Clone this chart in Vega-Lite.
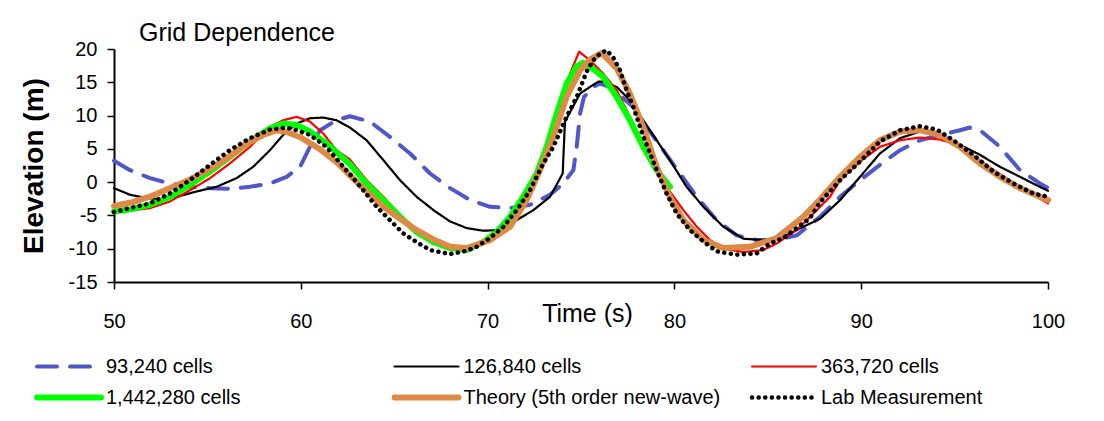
{
  "$schema": "https://vega.github.io/schema/vega-lite/v6.json",
  "width": 934,
  "height": 233,
  "autosize": {"type": "none"},
  "padding": {"left": 114, "top": 49, "right": 56, "bottom": 139},
  "background": "white",
  "title": {"text": "Grid Dependence", "anchor": "start", "frame": "group", "dx": 25, "fontSize": 25, "fontWeight": "normal", "font": "Liberation Sans", "color": "black", "baseline": "alphabetic", "offset": -27},
  "config": {"view": {"stroke": null}, "font": "Liberation Sans"},
  "datasets": {
    "waves": [
      {"series": "93,240 cells", "time": 50, "elevation": 3.2},
      {"series": "93,240 cells", "time": 50.86, "elevation": 1.8},
      {"series": "93,240 cells", "time": 51.93, "elevation": 0.6},
      {"series": "93,240 cells", "time": 53.0, "elevation": -0.2},
      {"series": "93,240 cells", "time": 54.07, "elevation": -0.7},
      {"series": "93,240 cells", "time": 55.14, "elevation": -0.9},
      {"series": "93,240 cells", "time": 56.2, "elevation": -1.0},
      {"series": "93,240 cells", "time": 57.28, "elevation": -0.7},
      {"series": "93,240 cells", "time": 58.35, "elevation": -0.2},
      {"series": "93,240 cells", "time": 59.24, "elevation": 0.8},
      {"series": "93,240 cells", "time": 59.96, "elevation": 2.3},
      {"series": "93,240 cells", "time": 60.49, "elevation": 5.3},
      {"series": "93,240 cells", "time": 61.03, "elevation": 7.8},
      {"series": "93,240 cells", "time": 61.91, "elevation": 9.3},
      {"series": "93,240 cells", "time": 62.63, "elevation": 9.9},
      {"series": "93,240 cells", "time": 63.7, "elevation": 9.1},
      {"series": "93,240 cells", "time": 64.77, "elevation": 6.8},
      {"series": "93,240 cells", "time": 65.85, "elevation": 4.3},
      {"series": "93,240 cells", "time": 66.92, "elevation": 1.3},
      {"series": "93,240 cells", "time": 67.99, "elevation": -0.9},
      {"series": "93,240 cells", "time": 69.06, "elevation": -2.7},
      {"series": "93,240 cells", "time": 70.13, "elevation": -3.7},
      {"series": "93,240 cells", "time": 71.2, "elevation": -3.9},
      {"series": "93,240 cells", "time": 72.27, "elevation": -3.4},
      {"series": "93,240 cells", "time": 73.34, "elevation": -1.9},
      {"series": "93,240 cells", "time": 74.05, "elevation": -0.2},
      {"series": "93,240 cells", "time": 74.59, "elevation": 1.8},
      {"series": "93,240 cells", "time": 74.77, "elevation": 5.3},
      {"series": "93,240 cells", "time": 74.95, "elevation": 10.3},
      {"series": "93,240 cells", "time": 75.16, "elevation": 12.8},
      {"series": "93,240 cells", "time": 75.66, "elevation": 14.3},
      {"series": "93,240 cells", "time": 76.0, "elevation": 14.8},
      {"series": "93,240 cells", "time": 76.55, "elevation": 14.3},
      {"series": "93,240 cells", "time": 77.8, "elevation": 11.3},
      {"series": "93,240 cells", "time": 78.51, "elevation": 8.3},
      {"series": "93,240 cells", "time": 79.4, "elevation": 4.8},
      {"series": "93,240 cells", "time": 80.3, "elevation": 1.3},
      {"series": "93,240 cells", "time": 81.19, "elevation": -2.2},
      {"series": "93,240 cells", "time": 82.26, "elevation": -5.7},
      {"series": "93,240 cells", "time": 83.33, "elevation": -8.0},
      {"series": "93,240 cells", "time": 84.4, "elevation": -8.7},
      {"series": "93,240 cells", "time": 85.48, "elevation": -8.7},
      {"series": "93,240 cells", "time": 86.55, "elevation": -8.0},
      {"series": "93,240 cells", "time": 87.8, "elevation": -5.2},
      {"series": "93,240 cells", "time": 88.87, "elevation": -2.2},
      {"series": "93,240 cells", "time": 89.94, "elevation": 0.3},
      {"series": "93,240 cells", "time": 91.0, "elevation": 2.6},
      {"series": "93,240 cells", "time": 92.08, "elevation": 4.8},
      {"series": "93,240 cells", "time": 93.15, "elevation": 6.3},
      {"series": "93,240 cells", "time": 94.22, "elevation": 7.1},
      {"series": "93,240 cells", "time": 95.29, "elevation": 7.8},
      {"series": "93,240 cells", "time": 95.82, "elevation": 8.2},
      {"series": "93,240 cells", "time": 96.36, "elevation": 7.8},
      {"series": "93,240 cells", "time": 97.43, "elevation": 5.3},
      {"series": "93,240 cells", "time": 98.5, "elevation": 1.8},
      {"series": "93,240 cells", "time": 99.57, "elevation": -0.2},
      {"series": "93,240 cells", "time": 100, "elevation": -0.9},

      {"series": "126,840 cells", "time": 50, "elevation": -0.9},
      {"series": "126,840 cells", "time": 50.86, "elevation": -1.9},
      {"series": "126,840 cells", "time": 51.57, "elevation": -2.3},
      {"series": "126,840 cells", "time": 52.46, "elevation": -2.6},
      {"series": "126,840 cells", "time": 53.35, "elevation": -2.2},
      {"series": "126,840 cells", "time": 54.42, "elevation": -1.4},
      {"series": "126,840 cells", "time": 55.49, "elevation": -0.7},
      {"series": "126,840 cells", "time": 56.56, "elevation": 0.6},
      {"series": "126,840 cells", "time": 57.45, "elevation": 2.3},
      {"series": "126,840 cells", "time": 58.35, "elevation": 4.8},
      {"series": "126,840 cells", "time": 59.06, "elevation": 7.1},
      {"series": "126,840 cells", "time": 59.78, "elevation": 8.8},
      {"series": "126,840 cells", "time": 60.49, "elevation": 9.6},
      {"series": "126,840 cells", "time": 61.2, "elevation": 9.7},
      {"series": "126,840 cells", "time": 61.91, "elevation": 9.3},
      {"series": "126,840 cells", "time": 62.63, "elevation": 8.2},
      {"series": "126,840 cells", "time": 63.52, "elevation": 6.3},
      {"series": "126,840 cells", "time": 64.42, "elevation": 3.3},
      {"series": "126,840 cells", "time": 65.31, "elevation": 0.3},
      {"series": "126,840 cells", "time": 66.2, "elevation": -2.2},
      {"series": "126,840 cells", "time": 67.1, "elevation": -4.2},
      {"series": "126,840 cells", "time": 67.99, "elevation": -5.9},
      {"series": "126,840 cells", "time": 68.88, "elevation": -6.9},
      {"series": "126,840 cells", "time": 69.77, "elevation": -7.3},
      {"series": "126,840 cells", "time": 70.66, "elevation": -7.2},
      {"series": "126,840 cells", "time": 71.56, "elevation": -5.7},
      {"series": "126,840 cells", "time": 72.45, "elevation": -4.2},
      {"series": "126,840 cells", "time": 73.34, "elevation": -2.2},
      {"series": "126,840 cells", "time": 74.02, "elevation": 1.3},
      {"series": "126,840 cells", "time": 74.14, "elevation": 9.1},
      {"series": "126,840 cells", "time": 74.95, "elevation": 13.3},
      {"series": "126,840 cells", "time": 75.48, "elevation": 14.3},
      {"series": "126,840 cells", "time": 75.93, "elevation": 15.1},
      {"series": "126,840 cells", "time": 76.19, "elevation": 15.1},
      {"series": "126,840 cells", "time": 76.91, "elevation": 14.3},
      {"series": "126,840 cells", "time": 77.62, "elevation": 12.3},
      {"series": "126,840 cells", "time": 78.33, "elevation": 9.3},
      {"series": "126,840 cells", "time": 79.05, "elevation": 6.3},
      {"series": "126,840 cells", "time": 79.76, "elevation": 3.3},
      {"series": "126,840 cells", "time": 80.65, "elevation": -0.7},
      {"series": "126,840 cells", "time": 81.55, "elevation": -3.7},
      {"series": "126,840 cells", "time": 82.62, "elevation": -6.7},
      {"series": "126,840 cells", "time": 83.69, "elevation": -8.5},
      {"series": "126,840 cells", "time": 84.76, "elevation": -8.7},
      {"series": "126,840 cells", "time": 85.83, "elevation": -8.2},
      {"series": "126,840 cells", "time": 86.9, "elevation": -6.7},
      {"series": "126,840 cells", "time": 87.8, "elevation": -5.5},
      {"series": "126,840 cells", "time": 88.87, "elevation": -2.7},
      {"series": "126,840 cells", "time": 89.94, "elevation": 0.8},
      {"series": "126,840 cells", "time": 91.0, "elevation": 4.3},
      {"series": "126,840 cells", "time": 92.08, "elevation": 6.6},
      {"series": "126,840 cells", "time": 93.15, "elevation": 7.6},
      {"series": "126,840 cells", "time": 94.22, "elevation": 7.1},
      {"series": "126,840 cells", "time": 95.29, "elevation": 5.6},
      {"series": "126,840 cells", "time": 96.36, "elevation": 4.1},
      {"series": "126,840 cells", "time": 97.43, "elevation": 2.3},
      {"series": "126,840 cells", "time": 98.5, "elevation": 0.8},
      {"series": "126,840 cells", "time": 99.2, "elevation": -0.2},
      {"series": "126,840 cells", "time": 100, "elevation": -1.3},

      {"series": "363,720 cells", "time": 50, "elevation": -4.2},
      {"series": "363,720 cells", "time": 50.86, "elevation": -4.3},
      {"series": "363,720 cells", "time": 51.93, "elevation": -3.9},
      {"series": "363,720 cells", "time": 53.0, "elevation": -2.9},
      {"series": "363,720 cells", "time": 54.07, "elevation": -1.2},
      {"series": "363,720 cells", "time": 55.14, "elevation": 0.6},
      {"series": "363,720 cells", "time": 56.2, "elevation": 2.8},
      {"series": "363,720 cells", "time": 57.28, "elevation": 5.3},
      {"series": "363,720 cells", "time": 58.35, "elevation": 8.3},
      {"series": "363,720 cells", "time": 59.06, "elevation": 9.3},
      {"series": "363,720 cells", "time": 59.78, "elevation": 9.8},
      {"series": "363,720 cells", "time": 60.49, "elevation": 9.1},
      {"series": "363,720 cells", "time": 61.2, "elevation": 7.3},
      {"series": "363,720 cells", "time": 61.91, "elevation": 4.8},
      {"series": "363,720 cells", "time": 62.63, "elevation": 3.4},
      {"series": "363,720 cells", "time": 63.52, "elevation": 0.3},
      {"series": "363,720 cells", "time": 64.42, "elevation": -2.2},
      {"series": "363,720 cells", "time": 65.31, "elevation": -4.9},
      {"series": "363,720 cells", "time": 66.2, "elevation": -7.2},
      {"series": "363,720 cells", "time": 67.1, "elevation": -8.7},
      {"series": "363,720 cells", "time": 67.99, "elevation": -9.7},
      {"series": "363,720 cells", "time": 68.88, "elevation": -9.9},
      {"series": "363,720 cells", "time": 69.77, "elevation": -9.0},
      {"series": "363,720 cells", "time": 70.66, "elevation": -6.9},
      {"series": "363,720 cells", "time": 71.56, "elevation": -4.2},
      {"series": "363,720 cells", "time": 72.27, "elevation": -0.7},
      {"series": "363,720 cells", "time": 72.8, "elevation": 2.3},
      {"series": "363,720 cells", "time": 73.34, "elevation": 6.3},
      {"series": "363,720 cells", "time": 73.88, "elevation": 11.3},
      {"series": "363,720 cells", "time": 74.41, "elevation": 16.3},
      {"series": "363,720 cells", "time": 74.9, "elevation": 19.6},
      {"series": "363,720 cells", "time": 75.48, "elevation": 18.3},
      {"series": "363,720 cells", "time": 76.19, "elevation": 16.3},
      {"series": "363,720 cells", "time": 76.91, "elevation": 13.8},
      {"series": "363,720 cells", "time": 77.62, "elevation": 9.8},
      {"series": "363,720 cells", "time": 78.33, "elevation": 5.3},
      {"series": "363,720 cells", "time": 79.05, "elevation": 1.8},
      {"series": "363,720 cells", "time": 79.76, "elevation": -1.4},
      {"series": "363,720 cells", "time": 80.48, "elevation": -4.2},
      {"series": "363,720 cells", "time": 81.2, "elevation": -6.7},
      {"series": "363,720 cells", "time": 81.91, "elevation": -8.7},
      {"series": "363,720 cells", "time": 82.62, "elevation": -10.0},
      {"series": "363,720 cells", "time": 83.69, "elevation": -10.5},
      {"series": "363,720 cells", "time": 84.76, "elevation": -10.2},
      {"series": "363,720 cells", "time": 85.48, "elevation": -9.2},
      {"series": "363,720 cells", "time": 86.55, "elevation": -7.2},
      {"series": "363,720 cells", "time": 87.62, "elevation": -4.2},
      {"series": "363,720 cells", "time": 88.33, "elevation": -2.2},
      {"series": "363,720 cells", "time": 88.87, "elevation": 0.3},
      {"series": "363,720 cells", "time": 89.94, "elevation": 3.1},
      {"series": "363,720 cells", "time": 91.0, "elevation": 5.3},
      {"series": "363,720 cells", "time": 92.08, "elevation": 6.3},
      {"series": "363,720 cells", "time": 93.15, "elevation": 6.7},
      {"series": "363,720 cells", "time": 94.22, "elevation": 6.4},
      {"series": "363,720 cells", "time": 94.93, "elevation": 5.8},
      {"series": "363,720 cells", "time": 96.0, "elevation": 4.0},
      {"series": "363,720 cells", "time": 97.0, "elevation": 2.0},
      {"series": "363,720 cells", "time": 98.0, "elevation": 0.2},
      {"series": "363,720 cells", "time": 99.0, "elevation": -1.5},
      {"series": "363,720 cells", "time": 100, "elevation": -3.2},

      {"series": "1,442,280 cells", "time": 50, "elevation": -4.4},
      {"series": "1,442,280 cells", "time": 50.86, "elevation": -4.1},
      {"series": "1,442,280 cells", "time": 51.93, "elevation": -3.4},
      {"series": "1,442,280 cells", "time": 53.0, "elevation": -2.2},
      {"series": "1,442,280 cells", "time": 54.07, "elevation": -0.4},
      {"series": "1,442,280 cells", "time": 55.14, "elevation": 1.6},
      {"series": "1,442,280 cells", "time": 56.2, "elevation": 3.8},
      {"series": "1,442,280 cells", "time": 57.28, "elevation": 6.1},
      {"series": "1,442,280 cells", "time": 58.35, "elevation": 8.1},
      {"series": "1,442,280 cells", "time": 59.06, "elevation": 8.8},
      {"series": "1,442,280 cells", "time": 59.78, "elevation": 8.6},
      {"series": "1,442,280 cells", "time": 60.49, "elevation": 7.6},
      {"series": "1,442,280 cells", "time": 61.38, "elevation": 5.8},
      {"series": "1,442,280 cells", "time": 62.27, "elevation": 3.6},
      {"series": "1,442,280 cells", "time": 62.63, "elevation": 2.7},
      {"series": "1,442,280 cells", "time": 63.52, "elevation": -0.2},
      {"series": "1,442,280 cells", "time": 64.42, "elevation": -2.7},
      {"series": "1,442,280 cells", "time": 65.31, "elevation": -5.2},
      {"series": "1,442,280 cells", "time": 66.2, "elevation": -7.5},
      {"series": "1,442,280 cells", "time": 67.1, "elevation": -9.0},
      {"series": "1,442,280 cells", "time": 67.99, "elevation": -9.9},
      {"series": "1,442,280 cells", "time": 68.88, "elevation": -10.2},
      {"series": "1,442,280 cells", "time": 69.77, "elevation": -9.0},
      {"series": "1,442,280 cells", "time": 70.48, "elevation": -7.5},
      {"series": "1,442,280 cells", "time": 71.2, "elevation": -5.2},
      {"series": "1,442,280 cells", "time": 71.91, "elevation": -2.2},
      {"series": "1,442,280 cells", "time": 72.63, "elevation": 1.3},
      {"series": "1,442,280 cells", "time": 73.16, "elevation": 5.3},
      {"series": "1,442,280 cells", "time": 73.7, "elevation": 10.3},
      {"series": "1,442,280 cells", "time": 74.23, "elevation": 14.8},
      {"series": "1,442,280 cells", "time": 74.77, "elevation": 17.4},
      {"series": "1,442,280 cells", "time": 75.1, "elevation": 17.9},
      {"series": "1,442,280 cells", "time": 75.48, "elevation": 17.4},
      {"series": "1,442,280 cells", "time": 76.19, "elevation": 15.8},
      {"series": "1,442,280 cells", "time": 76.91, "elevation": 12.8},
      {"series": "1,442,280 cells", "time": 77.62, "elevation": 9.3},
      {"series": "1,442,280 cells", "time": 78.33, "elevation": 5.3},
      {"series": "1,442,280 cells", "time": 79.05, "elevation": 1.8},
      {"series": "1,442,280 cells", "time": 79.76, "elevation": -0.7},

      {"series": "Theory (5th order new-wave)", "time": 50, "elevation": -3.6},
      {"series": "Theory (5th order new-wave)", "time": 51, "elevation": -3.0},
      {"series": "Theory (5th order new-wave)", "time": 52, "elevation": -2.1},
      {"series": "Theory (5th order new-wave)", "time": 53, "elevation": -0.9},
      {"series": "Theory (5th order new-wave)", "time": 54, "elevation": 0.3},
      {"series": "Theory (5th order new-wave)", "time": 55, "elevation": 1.8},
      {"series": "Theory (5th order new-wave)", "time": 56, "elevation": 3.5},
      {"series": "Theory (5th order new-wave)", "time": 57, "elevation": 5.6},
      {"series": "Theory (5th order new-wave)", "time": 58, "elevation": 7.1},
      {"series": "Theory (5th order new-wave)", "time": 58.7, "elevation": 7.8},
      {"series": "Theory (5th order new-wave)", "time": 59.3, "elevation": 7.5},
      {"series": "Theory (5th order new-wave)", "time": 60, "elevation": 6.7},
      {"series": "Theory (5th order new-wave)", "time": 61, "elevation": 5.0},
      {"series": "Theory (5th order new-wave)", "time": 62, "elevation": 2.8},
      {"series": "Theory (5th order new-wave)", "time": 62.63, "elevation": 1.0},
      {"series": "Theory (5th order new-wave)", "time": 63.5, "elevation": -1.3},
      {"series": "Theory (5th order new-wave)", "time": 64.42, "elevation": -3.7},
      {"series": "Theory (5th order new-wave)", "time": 65.31, "elevation": -5.5},
      {"series": "Theory (5th order new-wave)", "time": 66.2, "elevation": -7.2},
      {"series": "Theory (5th order new-wave)", "time": 67.1, "elevation": -8.6},
      {"series": "Theory (5th order new-wave)", "time": 67.99, "elevation": -9.7},
      {"series": "Theory (5th order new-wave)", "time": 68.88, "elevation": -9.9},
      {"series": "Theory (5th order new-wave)", "time": 70.13, "elevation": -8.7},
      {"series": "Theory (5th order new-wave)", "time": 71.2, "elevation": -6.7},
      {"series": "Theory (5th order new-wave)", "time": 72.09, "elevation": -2.7},
      {"series": "Theory (5th order new-wave)", "time": 72.8, "elevation": 1.8},
      {"series": "Theory (5th order new-wave)", "time": 73.52, "elevation": 6.8},
      {"series": "Theory (5th order new-wave)", "time": 74.23, "elevation": 12.8},
      {"series": "Theory (5th order new-wave)", "time": 74.95, "elevation": 16.8},
      {"series": "Theory (5th order new-wave)", "time": 75.48, "elevation": 18.4},
      {"series": "Theory (5th order new-wave)", "time": 76.1, "elevation": 19.4},
      {"series": "Theory (5th order new-wave)", "time": 76.91, "elevation": 17.1},
      {"series": "Theory (5th order new-wave)", "time": 77.62, "elevation": 13.3},
      {"series": "Theory (5th order new-wave)", "time": 78.33, "elevation": 8.3},
      {"series": "Theory (5th order new-wave)", "time": 79.05, "elevation": 2.3},
      {"series": "Theory (5th order new-wave)", "time": 79.76, "elevation": -2.2},
      {"series": "Theory (5th order new-wave)", "time": 80.48, "elevation": -5.7},
      {"series": "Theory (5th order new-wave)", "time": 81.55, "elevation": -8.7},
      {"series": "Theory (5th order new-wave)", "time": 82.62, "elevation": -9.9},
      {"series": "Theory (5th order new-wave)", "time": 84.05, "elevation": -9.7},
      {"series": "Theory (5th order new-wave)", "time": 85.48, "elevation": -8.4},
      {"series": "Theory (5th order new-wave)", "time": 86.9, "elevation": -5.2},
      {"series": "Theory (5th order new-wave)", "time": 87.8, "elevation": -2.6},
      {"series": "Theory (5th order new-wave)", "time": 88.87, "elevation": 0.8},
      {"series": "Theory (5th order new-wave)", "time": 89.94, "elevation": 3.8},
      {"series": "Theory (5th order new-wave)", "time": 91.0, "elevation": 6.3},
      {"series": "Theory (5th order new-wave)", "time": 92.08, "elevation": 7.6},
      {"series": "Theory (5th order new-wave)", "time": 93.15, "elevation": 7.8},
      {"series": "Theory (5th order new-wave)", "time": 94.22, "elevation": 7.1},
      {"series": "Theory (5th order new-wave)", "time": 95.29, "elevation": 5.3},
      {"series": "Theory (5th order new-wave)", "time": 96.36, "elevation": 2.8},
      {"series": "Theory (5th order new-wave)", "time": 97.43, "elevation": 0.8},
      {"series": "Theory (5th order new-wave)", "time": 98.5, "elevation": -0.9},
      {"series": "Theory (5th order new-wave)", "time": 100, "elevation": -2.7},

      {"series": "Lab Measurement", "time": 50, "elevation": -4.5},
      {"series": "Lab Measurement", "time": 50.86, "elevation": -3.9},
      {"series": "Lab Measurement", "time": 51.93, "elevation": -3.2},
      {"series": "Lab Measurement", "time": 53.0, "elevation": -1.7},
      {"series": "Lab Measurement", "time": 54.07, "elevation": 0.3},
      {"series": "Lab Measurement", "time": 55.14, "elevation": 2.6},
      {"series": "Lab Measurement", "time": 56.2, "elevation": 4.8},
      {"series": "Lab Measurement", "time": 57.28, "elevation": 6.6},
      {"series": "Lab Measurement", "time": 58.35, "elevation": 7.9},
      {"series": "Lab Measurement", "time": 59.24, "elevation": 8.2},
      {"series": "Lab Measurement", "time": 59.78, "elevation": 7.8},
      {"series": "Lab Measurement", "time": 60.49, "elevation": 7.1},
      {"series": "Lab Measurement", "time": 61.38, "elevation": 5.3},
      {"series": "Lab Measurement", "time": 62.27, "elevation": 2.3},
      {"series": "Lab Measurement", "time": 62.63, "elevation": 1.2},
      {"series": "Lab Measurement", "time": 63.34, "elevation": -1.2},
      {"series": "Lab Measurement", "time": 64.06, "elevation": -3.7},
      {"series": "Lab Measurement", "time": 64.77, "elevation": -5.7},
      {"series": "Lab Measurement", "time": 65.48, "elevation": -7.7},
      {"series": "Lab Measurement", "time": 66.2, "elevation": -9.0},
      {"series": "Lab Measurement", "time": 66.92, "elevation": -10.2},
      {"series": "Lab Measurement", "time": 67.99, "elevation": -10.8},
      {"series": "Lab Measurement", "time": 68.88, "elevation": -10.3},
      {"series": "Lab Measurement", "time": 69.42, "elevation": -9.7},
      {"series": "Lab Measurement", "time": 70.13, "elevation": -8.4},
      {"series": "Lab Measurement", "time": 70.84, "elevation": -6.7},
      {"series": "Lab Measurement", "time": 71.56, "elevation": -4.2},
      {"series": "Lab Measurement", "time": 72.27, "elevation": -1.2},
      {"series": "Lab Measurement", "time": 72.98, "elevation": 2.8},
      {"series": "Lab Measurement", "time": 73.52, "elevation": 5.3},
      {"series": "Lab Measurement", "time": 73.88, "elevation": 7.6},
      {"series": "Lab Measurement", "time": 74.23, "elevation": 9.8},
      {"series": "Lab Measurement", "time": 74.77, "elevation": 12.8},
      {"series": "Lab Measurement", "time": 75.3, "elevation": 16.6},
      {"series": "Lab Measurement", "time": 75.66, "elevation": 18.3},
      {"series": "Lab Measurement", "time": 76.02, "elevation": 19.3},
      {"series": "Lab Measurement", "time": 76.37, "elevation": 19.8},
      {"series": "Lab Measurement", "time": 76.73, "elevation": 18.7},
      {"series": "Lab Measurement", "time": 77.09, "elevation": 16.8},
      {"series": "Lab Measurement", "time": 77.44, "elevation": 13.8},
      {"series": "Lab Measurement", "time": 77.8, "elevation": 11.3},
      {"series": "Lab Measurement", "time": 78.33, "elevation": 6.9},
      {"series": "Lab Measurement", "time": 79.05, "elevation": 1.8},
      {"series": "Lab Measurement", "time": 79.58, "elevation": -1.7},
      {"series": "Lab Measurement", "time": 80.12, "elevation": -4.7},
      {"series": "Lab Measurement", "time": 80.83, "elevation": -7.2},
      {"series": "Lab Measurement", "time": 81.55, "elevation": -8.9},
      {"series": "Lab Measurement", "time": 82.26, "elevation": -10.4},
      {"series": "Lab Measurement", "time": 83.33, "elevation": -10.9},
      {"series": "Lab Measurement", "time": 84.4, "elevation": -10.7},
      {"series": "Lab Measurement", "time": 85.12, "elevation": -9.2},
      {"series": "Lab Measurement", "time": 85.83, "elevation": -8.4},
      {"series": "Lab Measurement", "time": 86.55, "elevation": -6.9},
      {"series": "Lab Measurement", "time": 87.26, "elevation": -5.4},
      {"series": "Lab Measurement", "time": 87.8, "elevation": -3.0},
      {"series": "Lab Measurement", "time": 88.87, "elevation": 0.3},
      {"series": "Lab Measurement", "time": 89.94, "elevation": 3.1},
      {"series": "Lab Measurement", "time": 91.0, "elevation": 6.1},
      {"series": "Lab Measurement", "time": 92.08, "elevation": 7.8},
      {"series": "Lab Measurement", "time": 93.15, "elevation": 8.4},
      {"series": "Lab Measurement", "time": 94.04, "elevation": 7.9},
      {"series": "Lab Measurement", "time": 94.93, "elevation": 6.3},
      {"series": "Lab Measurement", "time": 96.0, "elevation": 4.1},
      {"series": "Lab Measurement", "time": 97.07, "elevation": 1.6},
      {"series": "Lab Measurement", "time": 98.14, "elevation": -0.2},
      {"series": "Lab Measurement", "time": 99.2, "elevation": -1.7},
      {"series": "Lab Measurement", "time": 100, "elevation": -2.2}
    ]
  },
  "data": {"name": "waves"},
  "mark": {"type": "line", "strokeCap": "round", "strokeJoin": "round"},
  "encoding": {
    "x": {
      "field": "time", "type": "quantitative",
      "scale": {"domain": [50, 100], "nice": false, "zero": false},
      "axis": {
        "values": [50, 60, 70, 80, 90, 100], "grid": false,
        "title": "Time (s)", "titleFontSize": 25, "titleFontWeight": "normal", "titleColor": "black",
        "titleX": 473, "titleY": 39, "titleBaseline": "alphabetic", "titleAlign": "center", "titleAnchor": null,
        "labelFontSize": 20, "labelColor": "black", "labelPadding": 22, "labelFlush": false, "labelOverlap": false,
        "tickSize": 7, "tickColor": "black", "tickWidth": 1.5,
        "domainColor": "black", "domainWidth": 2
      }
    },
    "y": {
      "field": "elevation", "type": "quantitative",
      "scale": {"domain": [-15, 20], "nice": false, "zero": false},
      "axis": {
        "values": [-15, -10, -5, 0, 5, 10, 15, 20], "grid": false,
        "labelExpr": "datum.value < 0 ? '-' + abs(datum.value) : '' + datum.value",
        "title": "Elevation (m)", "titleFontSize": 28, "titleFontWeight": "bold", "titleColor": "black",
        "titleX": -80, "titleY": 116.5, "titleAngle": -90, "titleAlign": "center", "titleBaseline": "middle",
        "labelFontSize": 20, "labelColor": "black", "labelPadding": 10, "labelOverlap": false,
        "tickSize": 7, "tickColor": "black", "tickWidth": 1.5,
        "domainColor": "black", "domainWidth": 2
      }
    },
    "color": {
      "field": "series", "type": "nominal",
      "scale": {
        "domain": ["93,240 cells", "126,840 cells", "363,720 cells", "1,442,280 cells", "Theory (5th order new-wave)", "Lab Measurement"],
        "range": ["#4f57c9", "#000000", "#ff0000", "#00ff00", "#dc8a45", "#000000"]
      },
      "legend": {
        "title": null, "orient": "none", "legendX": -80, "legendY": 302, "direction": "horizontal",
        "columns": 3, "gridAlign": "all", "columnPadding": 28.5, "rowPadding": 0, "clipHeight": 31,
        "symbolType": "stroke", "symbolSize": 4096, "labelFontSize": 20, "labelColor": "black",
        "labelOffset": 2, "labelLimit": 400, "padding": 0,
        "encode": {"symbols": {"update": {"strokeCap": {"value": "round"}}}}
      }
    },
    "strokeDash": {
      "field": "series", "type": "nominal",
      "scale": {
        "domain": ["93,240 cells", "126,840 cells", "363,720 cells", "1,442,280 cells", "Theory (5th order new-wave)", "Lab Measurement"],
        "range": [[20, 13], [1, 0], [1, 0], [1, 0], [1, 0], [0.1, 6.5]]
      },
      "legend": {"title": null}
    },
    "strokeWidth": {
      "field": "series", "type": "nominal",
      "scale": {
        "type": "ordinal",
        "domain": ["93,240 cells", "126,840 cells", "363,720 cells", "1,442,280 cells", "Theory (5th order new-wave)", "Lab Measurement"],
        "range": [4, 2.2, 2.2, 6, 6, 4.5]
      },
      "legend": {"title": null}
    }
  }
}
